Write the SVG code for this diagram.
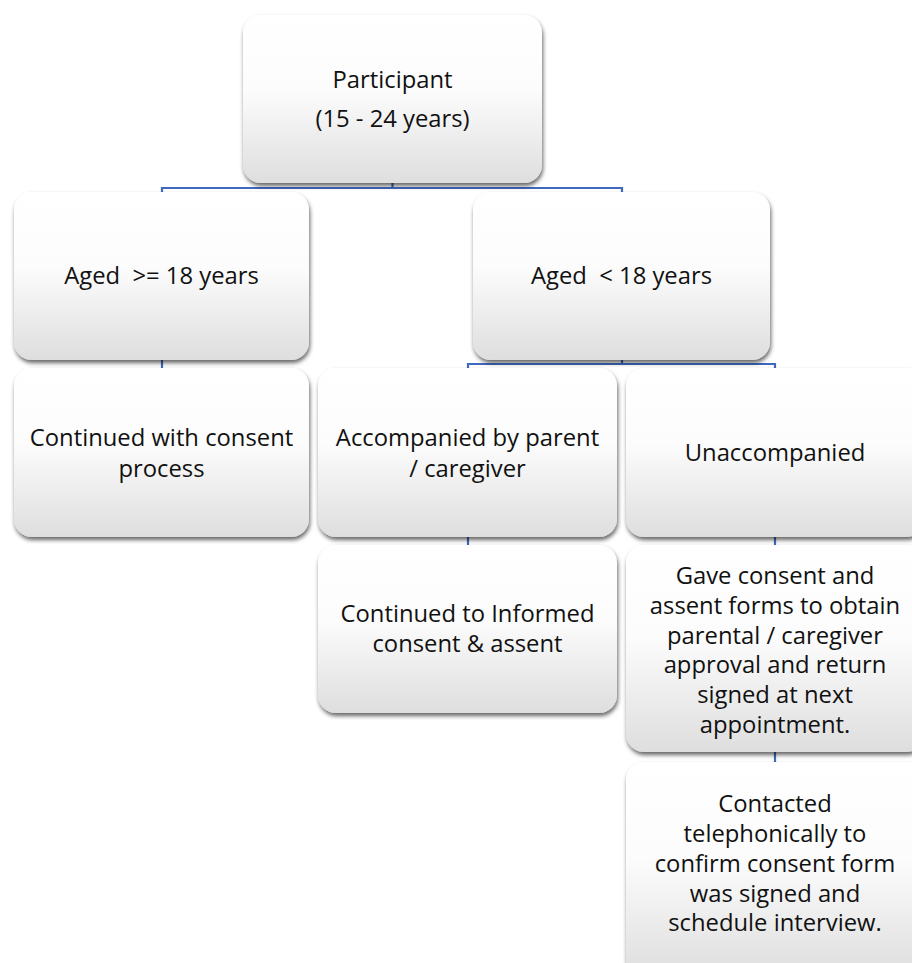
<svg xmlns="http://www.w3.org/2000/svg" width="912" height="963" viewBox="0 0 912 963">
  <defs>
    <linearGradient id="boxFill" x1="0" y1="0" x2="0" y2="1">
      <stop offset="0" stop-color="#ffffff"/>
      <stop offset="0.45" stop-color="#fcfcfc"/>
      <stop offset="1" stop-color="#dedede"/>
    </linearGradient>
    <filter id="shadow" x="-10%" y="-10%" width="120%" height="125%">
      <feDropShadow dx="1" dy="3" stdDeviation="2.2" flood-color="#000" flood-opacity="0.6"/>
    </filter>
  </defs>
  <style>
    .box { fill: url(#boxFill); filter: url(#shadow); }
    .label { font-family: "Open Sans", "Noto Sans", "Liberation Sans", sans-serif; font-size: 23.8px; fill: #111; text-anchor: middle; white-space: pre; }
    .conn { fill: none; stroke: #3f69bd; stroke-width: 2.2; }
  </style>
  <rect width="912" height="963" fill="#ffffff"/>

  <!-- connectors -->
  <g id="connectors">
    <path class="conn" d="M392.5 183 V188 M162 192 V188 H622 V192"/>
    <path class="conn" d="M162 360 V368"/>
    <path class="conn" d="M622 360 V364 M468 368 V364 H775 V368"/>
    <path class="conn" d="M468 537 V545"/>
    <path class="conn" d="M775 537 V545"/>
    <path class="conn" d="M775 752 V762"/>
  </g>

  <g id="participant">
    <rect class="box" x="243" y="15" width="299" height="168" rx="18"/>
    <text class="label" x="392.5" y="88">Participant</text>
    <text class="label" x="392.5" y="127">(15 - 24 years)</text>
  </g>

  <g id="aged-18-plus">
    <rect class="box" x="14" y="192" width="295" height="168" rx="18"/>
    <text class="label" x="161.5" y="283.5" xml:space="preserve">Aged  &gt;= 18 years</text>
  </g>

  <g id="aged-under-18">
    <rect class="box" x="473" y="192" width="297" height="168" rx="18"/>
    <text class="label" x="621.5" y="284" xml:space="preserve">Aged  &lt; 18 years</text>
  </g>

  <g id="continued-consent">
    <rect class="box" x="14" y="368" width="295" height="169" rx="18"/>
    <text class="label" x="161.5" y="446">Continued with consent</text>
    <text class="label" x="161.5" y="476.5">process</text>
  </g>

  <g id="accompanied">
    <rect class="box" x="318" y="368" width="299" height="169" rx="18"/>
    <text class="label" x="467.5" y="446">Accompanied by parent</text>
    <text class="label" x="467.5" y="476.5">/ caregiver</text>
  </g>

  <g id="unaccompanied">
    <rect class="box" x="626" y="368" width="298" height="169" rx="18"/>
    <text class="label" x="775" y="460.5">Unaccompanied</text>
  </g>

  <g id="informed-consent">
    <rect class="box" x="318" y="545" width="299" height="168" rx="18"/>
    <text class="label" x="467.5" y="621.5">Continued to Informed</text>
    <text class="label" x="467.5" y="651.5">consent &amp; assent</text>
  </g>

  <g id="forms-given">
    <rect class="box" x="626" y="545" width="298" height="207" rx="18"/>
    <text class="label" x="775" y="584">Gave consent and</text>
    <text class="label" x="775" y="613.8">assent forms to obtain</text>
    <text class="label" x="775" y="643.6">parental / caregiver</text>
    <text class="label" x="775" y="673.4">approval and return</text>
    <text class="label" x="775" y="703.2">signed at next</text>
    <text class="label" x="775" y="733">appointment.</text>
  </g>

  <g id="telephone-follow-up">
    <rect class="box" x="626" y="762" width="298" height="215" rx="18"/>
    <text class="label" x="775" y="811.5">Contacted</text>
    <text class="label" x="775" y="841.5">telephonically to</text>
    <text class="label" x="775" y="871.5">confirm consent form</text>
    <text class="label" x="775" y="901.5">was signed and</text>
    <text class="label" x="775" y="931">schedule interview.</text>
  </g>
</svg>
